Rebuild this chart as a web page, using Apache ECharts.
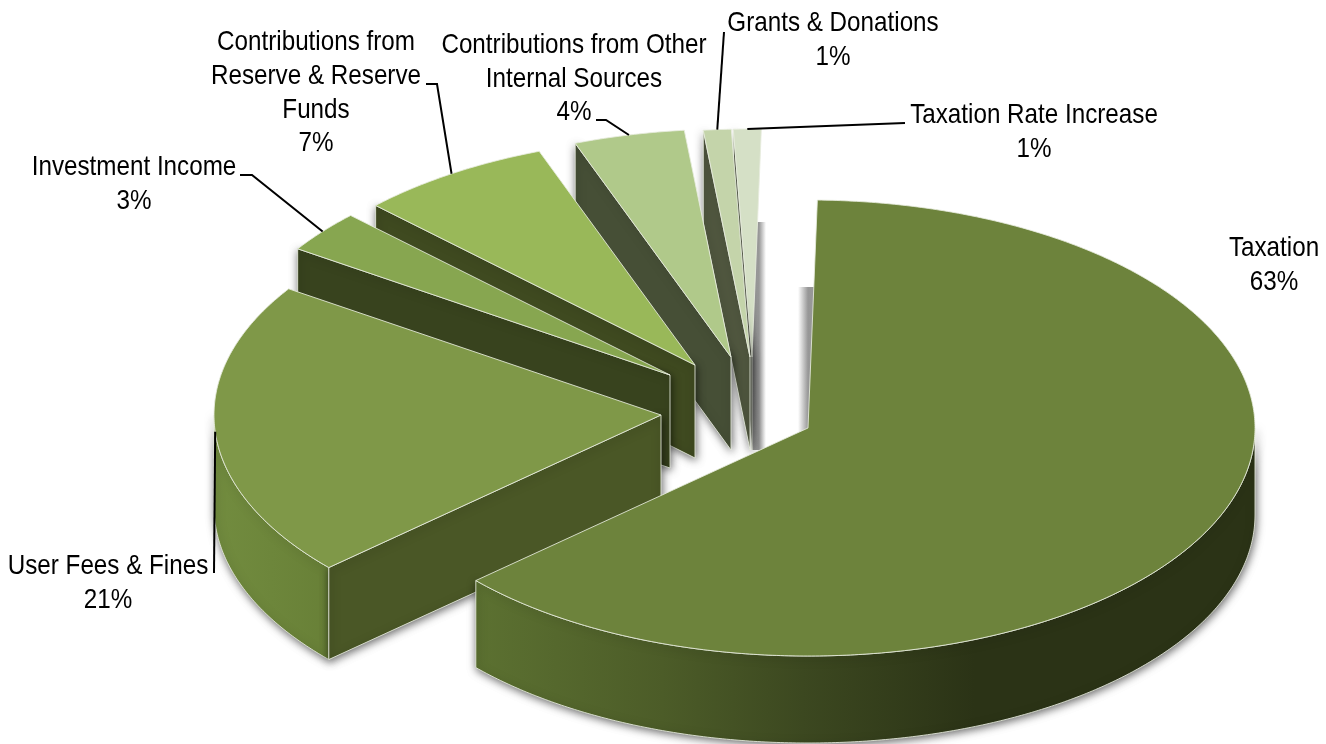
<!DOCTYPE html>
<html>
<head>
<meta charset="utf-8">
<title>Revenue sources</title>
<style>
  html, body { margin: 0; padding: 0; background: #ffffff; }
  #chart { width: 1326px; height: 744px; }
</style>
<script src="https://cdn.jsdelivr.net/npm/echarts@6/dist/echarts.min.js"></script>
</head>
<body>
<div id="chart"></div>
<script>
// Revenue shares, clockwise from twelve o'clock
const categories = [
  'Taxation',
  'User Fees & Fines',
  'Investment Income',
  'Contributions from\nReserve & Reserve\nFunds',
  'Contributions from Other\nInternal Sources',
  'Grants & Donations',
  'Taxation Rate Increase'
];
const shares = [63, 21, 3, 7, 4, 1, 1];

// Face colours
const topColors = ['#6d833c', '#7f9848', '#87a650', '#99b859', '#b0c98a', '#c4d4aa', '#d5e0c6'];
const wallColors = ['#4a5726', '#4a5726', '#38431e', '#3f4a20', '#464f36', '#50573f', '#5b6150'];
const taxationRimStops = [
  { offset: 0, color: '#5c7131' },
  { offset: 0.24, color: '#4c5c28' },
  { offset: 0.42, color: '#3c4820' },
  { offset: 0.64, color: '#2b3316' },
  { offset: 1, color: '#2b3316' }
];
const feesRimStops = [
  { offset: 0, color: '#728c3f' },
  { offset: 1, color: '#688037' }
];
const rimStops = [taxationRimStops, feesRimStops];

// Ellipse of the tilted pie and how far each wedge is pulled out
const radiusX = 447;
const radiusY = 228;
const rimDepths = [87, 92, 93, 93, 93, 93, 93];
const firstAngle = 1.2;
const wedgeCentres = [[808, 428], [661, 415], [670, 375], [695, 365], [731, 357], [750, 357], [752, 357]];

// Label block centres and the fixed part of each leader line
const labelCentres = [[1274, 265], [108, 583], [134, 184], [316, 93], [574, 79], [833, 40], [1034, 132]];
const leaderStarts = [
  null,
  [[214, 573]],
  [[240, 175], [252, 175]],
  [[426, 84], [437, 84]],
  [[596, 120], [606, 120]],
  [[724, 32]],
  [[905, 123]]
];
const labelWidthScale = 0.865;

const edgeLine = 'rgba(232,236,222,0.85)';
const total = shares.reduce((a, b) => a + b, 0);
let running = firstAngle;
const wedges = shares.map((share, i) => {
  const start = running;
  running += share / total * 360;
  return { start: start, end: running, cx: wedgeCentres[i][0], cy: wedgeCentres[i][1], depth: rimDepths[i] };
});

const rad = d => d * Math.PI / 180;
const rimPoint = (w, a) => [w.cx + radiusX * Math.sin(rad(a)), w.cy - radiusY * Math.cos(rad(a))];
const arcPoints = (w, from, to) => {
  const pts = [];
  const steps = Math.max(2, Math.ceil((to - from) * 2));
  for (let k = 0; k <= steps; k++) pts.push(rimPoint(w, from + (to - from) * k / steps));
  return pts;
};
const castShadow = { shadowBlur: 9, shadowColor: 'rgba(0,0,0,0.6)', shadowOffsetX: 1, shadowOffsetY: 2 };

function edgeStrip(i, w) {
  // Soft shade beside the wedge edges that face straight at twelve o'clock;
  // the part nearest the wedge runs on underneath its top face
  const left = i === 0;
  const top = w.cy - radiusY + w.depth;
  const clear = 'rgba(140,140,140,0)';
  const shade = 'rgba(140,140,140,0.9)';
  return {
    type: 'rect',
    shape: { x: left ? w.cx - 10 : w.cx, y: top, width: left ? 20 : 14, height: radiusY },
    style: {
      fill: {
        type: 'linear', x: 0, y: 0, x2: 1, y2: 0,
        colorStops: left
          ? [{ offset: 0, color: clear }, { offset: 0.5, color: shade }, { offset: 1, color: shade }]
          : [{ offset: 0, color: shade }, { offset: 0.5, color: shade }, { offset: 1, color: clear }]
      }
    }
  };
}

function renderWedge(params, api) {
  const i = api.value(1);
  const w = wedges[i];
  const apex = [w.cx, w.cy];
  const dropped = p => [p[0], p[1] + w.depth];
  const children = [];

  if (i === 0 || i === shares.length - 1) children.push(edgeStrip(i, w));

  // Outer rim, only where it faces the viewer
  const from = Math.max(w.start, 90);
  const to = Math.min(w.end, 270);
  if (to > from) {
    const arc = arcPoints(w, from, to);
    const stops = rimStops[i];
    children.push({
      type: 'polygon',
      shape: { points: arc.concat(arc.map(dropped).reverse()) },
      style: Object.assign({
        fill: { type: 'linear', x: 0, y: 0, x2: 1, y2: 0, colorStops: stops },
        stroke: edgeLine, lineWidth: 1
      }, castShadow)
    });
  }

  // Cut wall along the wedge's leading edge
  if (Math.sin(rad(w.start)) < 0) {
    const rim = rimPoint(w, w.start);
    children.push({
      type: 'polygon',
      shape: { points: [rim, apex, dropped(apex), dropped(rim)] },
      style: Object.assign({ fill: wallColors[i], stroke: edgeLine, lineWidth: 1 }, castShadow)
    });
  }

  // Top face
  children.push({
    type: 'polygon',
    shape: { points: [apex].concat(arcPoints(w, w.start, w.end)) },
    style: { fill: topColors[i], stroke: edgeLine, lineWidth: 1 }
  });

  return { type: 'group', children: children };
}

function renderLabel(params, api) {
  const i = api.value(1);
  const w = wedges[i];
  const children = [];
  if (leaderStarts[i]) {
    const mid = rimPoint(w, (w.start + w.end) / 2);
    children.push({
      type: 'polyline',
      shape: { points: leaderStarts[i].concat([mid]) },
      style: { fill: null, stroke: '#000000', lineWidth: 2 }
    });
  }
  children.push({
    type: 'text',
    x: labelCentres[i][0],
    y: labelCentres[i][1],
    scaleX: labelWidthScale,
    style: {
      x: 0,
      y: 0,
      text: categories[i] + '\n' + api.value(0) + '%',
      fill: '#000000',
      font: '28px "Liberation Sans", sans-serif',
      lineHeight: 33.7,
      align: 'center',
      verticalAlign: 'middle'
    }
  });
  return { type: 'group', children: children };
}

// Painted back to front, so nearer wedges cover the walls behind them
const paintOrder = shares.map((s, i) => i).reverse();

const chart = echarts.init(document.getElementById('chart'), null, { renderer: 'canvas' });
chart.setOption({
  animation: false,
  backgroundColor: '#ffffff',
  series: [
    {
      type: 'custom',
      coordinateSystem: 'none',
      silent: true,
      renderItem: renderWedge,
      data: paintOrder.map(i => [shares[i], i])
    },
    {
      type: 'custom',
      coordinateSystem: 'none',
      silent: true,
      z: 3,
      renderItem: renderLabel,
      data: paintOrder.map(i => [shares[i], i])
    }
  ]
});
</script>
</body>
</html>
